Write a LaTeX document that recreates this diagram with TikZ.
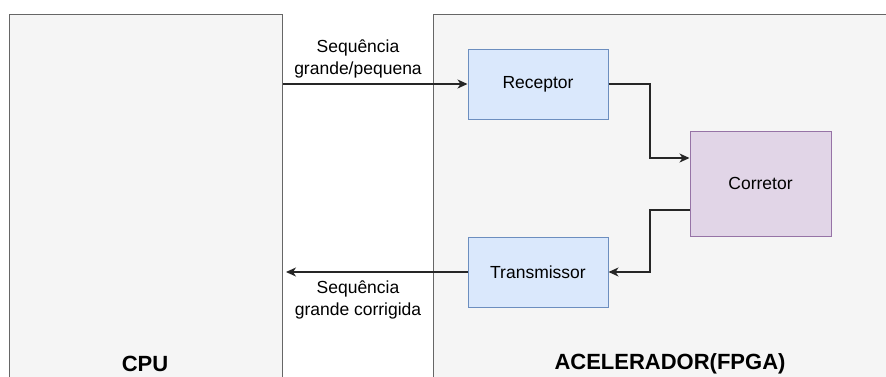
\documentclass[tikz,border=0pt]{standalone}
\usepackage{fontspec}
\setmainfont{Liberation Sans}
\usetikzlibrary{arrows.meta}
\definecolor{panelfill}{HTML}{F5F5F5}
\definecolor{panelline}{HTML}{666666}
\definecolor{bluefill}{HTML}{DAE8FC}
\definecolor{blueline}{HTML}{6C8EBF}
\definecolor{purplefill}{HTML}{E1D5E7}
\definecolor{purpleline}{HTML}{9673A6}
\tikzset{
  panel/.style={draw=panelline, fill=panelfill, line width=1pt},
  block/.style={draw=blueline, fill=bluefill, line width=1pt, minimum width=140pt, minimum height=70pt, inner sep=0pt, font=\fontsize{17.5}{20}\selectfont},
  fixblock/.style={draw=purpleline, fill=purplefill, line width=1pt, minimum width=141pt, minimum height=105pt, inner sep=0pt, font=\fontsize{17.5}{20}\selectfont},
  flow/.style={draw=black!85, line width=1.3pt, -{Stealth[length=10pt,width=9pt,inset=3pt]}},
  lbl/.style={font=\fontsize{17.5}{22}\selectfont, align=center, inner sep=0pt},
  title/.style={font=\bfseries\fontsize{22}{26}\selectfont, inner sep=0pt}
}
\begin{document}
\begin{tikzpicture}[x=1pt, y=-1pt]
\useasboundingbox (0,0) rectangle (886,376);
\clip (0,0) rectangle (886,376);
\fill[white] (0,0) rectangle (886,376);
% host and accelerator panels, both running past the lower edge
\draw[panel] (9,14) rectangle (282,400);
\draw[panel] (433,14) rectangle (900,400);
\node[title] (cpu) at (145,364) {CPU};
\node[title] (acc) at (670,364) {ACELERADOR(FPGA)};
% functional blocks inside the accelerator
\node[block] (rx) at (538,84) {Receptor};
\node[fixblock] (fix) at (760.5,183.5) {Corretor};
\node[block] (tx) at (538,272) {Transmissor};
\coordinate (cpuin) at (283,84);
\coordinate (cpuout) at (286,272);
% data path
\draw[flow] (cpuin) -- (rx.west);
\draw[flow] (rx.east) -| (650,158) -- (fix.west |- 0,158);
\draw[flow] (fix.west |- 0,210) -| (650,272) -- (tx.east);
\draw[flow] (tx.west) -- (cpuout);
\node[lbl] (lin) at (358,59) {Sequência\\grande/pequena};
\node[lbl] (lout) at (358,300) {Sequência\\grande corrigida};
\end{tikzpicture}
\end{document}
